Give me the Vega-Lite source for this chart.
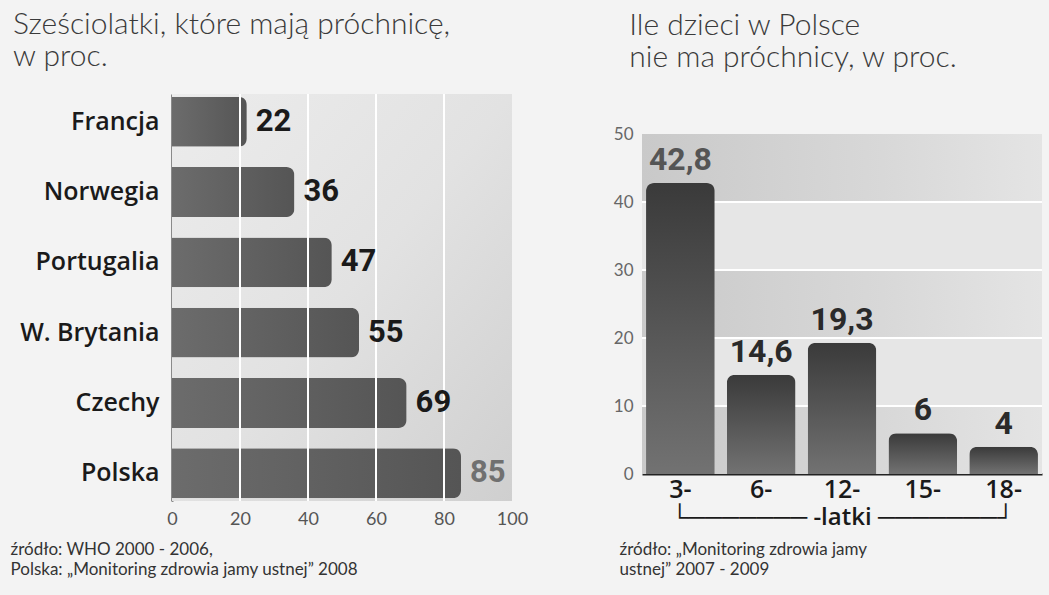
{
  "$schema": "https://vega.github.io/schema/vega-lite/v6.json",
  "background": "#f3f3f3",
  "padding": {"left": 10, "top": 10, "right": 8, "bottom": 20},
  "config": {
    "view": {"stroke": null},
    "font": "Lato",
    "locale": {"number": {"decimal": ",", "thousands": " ", "grouping": [3], "currency": ["", " zł"]}},
    "title": {"anchor": "start", "frame": "bounds", "fontSize": 30, "fontWeight": 300, "color": "#3a3a3a", "font": "Lato", "lineHeight": 32, "offset": 21}
  },
  "datasets": {
    "caries6": [
      {"country": "Francja", "percent": 22},
      {"country": "Norwegia", "percent": 36},
      {"country": "Portugalia", "percent": 47},
      {"country": "W. Brytania", "percent": 55},
      {"country": "Czechy", "percent": 69},
      {"country": "Polska", "percent": 85}
    ],
    "panelLeft": [{"from": 0, "to": 100}],
    "gridLeft": [{"tick": 20}, {"tick": 40}, {"tick": 60}, {"tick": 80}],
    "noCaries": [
      {"age": "3-", "percent": 42.8},
      {"age": "6-", "percent": 14.6},
      {"age": "12-", "percent": 19.3},
      {"age": "15-", "percent": 6},
      {"age": "18-", "percent": 4}
    ],
    "panelRight": [{"from": 0, "to": 50}],
    "bandsRight": [{"from": 0, "to": 10}, {"from": 20, "to": 30}, {"from": 40, "to": 50}],
    "gridRight": [{"tick": 10}, {"tick": 20}, {"tick": 30}, {"tick": 40}]
  },
  "spacing": 85,
  "hconcat": [
    {
      "title": {"text": ["Sześciolatki, które mają próchnicę,", "w proc."], "dx": 3},
      "width": 340,
      "height": 407,
      "layer": [
        {
          "data": {"name": "panelLeft"},
          "mark": {"type": "rect", "color": {"gradient": "linear", "x1": 0, "x2": 1, "y1": 0, "y2": 1, "stops": [{"offset": 0, "color": "#ececec"}, {"offset": 0.5, "color": "#e2e2e2"}, {"offset": 1, "color": "#cfcfcf"}]}},
          "encoding": {
            "x": {
              "field": "from", "type": "quantitative", "scale": {"domain": [0, 100]},
              "axis": {
                "values": [0, 20, 40, 60, 80, 100], "domain": false, "ticks": false, "labelFlush": false, "grid": false,
                "labelColor": "#555", "labelFontSize": 18, "labelPadding": 9,
                "title": ["źródło: WHO 2000 - 2006,", "Polska: „Monitoring zdrowia jamy ustnej” 2008"],
                "titleFontWeight": "normal", "titleFontSize": 17, "titleColor": "#333",
                "titleAnchor": "start", "titleAlign": "left", "titleBaseline": "top",
                "titleX": -162, "titleY": 40, "titleLineHeight": 20
              }
            },
            "x2": {"field": "to"}
          }
        },
        {
          "data": {"name": "caries6"},
          "mark": {"type": "bar", "cornerRadiusEnd": 8, "color": {"gradient": "linear", "x1": 0, "x2": 1, "y1": 0, "y2": 0, "stops": [{"offset": 0, "color": "#6c6c6c"}, {"offset": 1, "color": "#555555"}]}},
          "encoding": {
            "y": {
              "field": "country", "type": "nominal", "sort": null,
              "scale": {"paddingInner": 0.29, "paddingOuter": 0.04},
              "axis": {"title": null, "ticks": false, "domainColor": "#222", "domainWidth": 2, "labelFont": "Open Sans", "labelFontWeight": 600, "labelFontSize": 25, "labelColor": "#1a1a1a", "labelPadding": 13}
            },
            "x": {"field": "percent", "type": "quantitative"}
          }
        },
        {
          "data": {"name": "gridLeft"},
          "mark": {"type": "rule", "color": "white", "strokeWidth": 2},
          "encoding": {"x": {"field": "tick", "type": "quantitative"}}
        },
        {
          "data": {"name": "caries6"},
          "mark": {"type": "text", "align": "left", "baseline": "middle", "dx": 9, "font": "Roboto", "fontWeight": "bold", "fontSize": 31},
          "encoding": {
            "y": {"field": "country", "type": "nominal", "sort": null},
            "x": {"field": "percent", "type": "quantitative"},
            "text": {"field": "percent"},
            "color": {"condition": {"test": "datum.country === 'Polska'", "value": "#707070"}, "value": "#1a1a1a"}
          }
        }
      ]
    },
    {
      "title": {"text": ["Ile dzieci w Polsce", "nie ma próchnicy, w proc."], "dx": 16},
      "width": 400,
      "height": 380,
      "layer": [
        {
          "data": {"name": "panelRight"},
          "mark": {"type": "rect", "color": "#e6e6e6"},
          "encoding": {
            "y": {
              "field": "from", "type": "quantitative", "scale": {"domain": [0, 55.9], "nice": false},
              "axis": {
                "values": [0, 10, 20, 30, 40, 50], "domain": false, "ticks": false, "grid": false,
                "labelColor": "#666", "labelFontSize": 17, "labelPadding": 9,
                "title": ["źródło: „Monitoring zdrowia jamy", "ustnej” 2007 - 2009"],
                "titleAngle": 0, "titleAlign": "left", "titleBaseline": "top",
                "titleFontWeight": "normal", "titleFontSize": 17, "titleColor": "#333",
                "titleX": -23, "titleY": 447, "titleLineHeight": 20
              }
            },
            "y2": {"field": "to"}
          }
        },
        {
          "data": {"name": "bandsRight"},
          "mark": {"type": "rect", "color": {"gradient": "linear", "x1": 0, "x2": 1, "y1": 0, "y2": 0, "stops": [{"offset": 0, "color": "#c9c9c9"}, {"offset": 0.6, "color": "#d8d8d8"}, {"offset": 1, "color": "#e4e4e4"}]}},
          "encoding": {
            "y": {"field": "from", "type": "quantitative"},
            "y2": {"field": "to"}
          }
        },
        {
          "data": {"name": "gridRight"},
          "mark": {"type": "rule", "color": "white", "strokeWidth": 2},
          "encoding": {"y": {"field": "tick", "type": "quantitative"}}
        },
        {
          "data": {"name": "noCaries"},
          "mark": {"type": "bar", "cornerRadiusTopLeft": 8, "cornerRadiusTopRight": 8, "color": {"gradient": "linear", "x1": 0, "x2": 0, "y1": 0, "y2": 1, "stops": [{"offset": 0, "color": "#3a3a3a"}, {"offset": 1, "color": "#727272"}]}},
          "encoding": {
            "x": {
              "field": "age", "type": "nominal", "sort": null,
              "scale": {"paddingInner": 0.15, "paddingOuter": 0.05},
              "axis": {
                "labelAngle": 0, "ticks": false, "domainColor": "#222", "domainWidth": 2,
                "labelFont": "Open Sans", "labelFontWeight": 600, "labelFontSize": 25, "labelColor": "#1a1a1a", "labelPadding": 3,
                "title": "└─────── -latki ───────┘",
                "titleFont": "Open Sans", "titleFontWeight": 600, "titleFontSize": 24, "titleColor": "#1a1a1a", "titlePadding": 3
              }
            },
            "y": {"field": "percent", "type": "quantitative"}
          }
        },
        {
          "data": {"name": "noCaries"},
          "mark": {"type": "text", "baseline": "bottom", "dy": -6, "font": "Roboto", "fontWeight": "bold", "fontSize": 32},
          "encoding": {
            "x": {"field": "age", "type": "nominal", "sort": null},
            "y": {"field": "percent", "type": "quantitative"},
            "text": {"field": "percent", "format": ",.1~f"},
            "color": {"condition": {"test": "datum.age === '3-'", "value": "#555"}, "value": "#2a2a2a"}
          }
        }
      ]
    }
  ]
}
